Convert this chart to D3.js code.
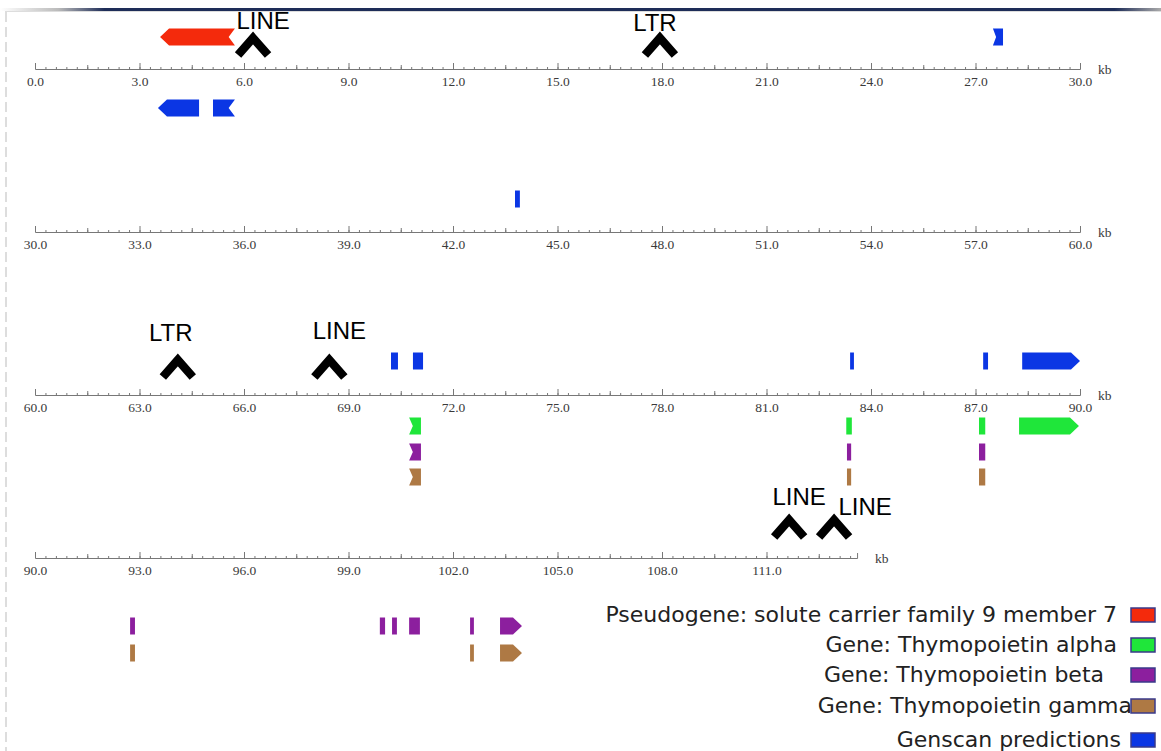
<!DOCTYPE html>
<html>
<head>
<meta charset="utf-8">
<script src="https://cdnjs.cloudflare.com/ajax/libs/d3/7.8.5/d3.min.js"></script>
<style>
body { margin: 0; background: #fff; }
svg { display: block; }
</style>
</head>
<body>
<svg id="map" width="1161" height="751"></svg>
<script>
// ruler rows, kb
var rowStarts = [0, 30, 60, 90];
var rowEnds = [30, 60, 90, 113.6];

// features: [start kb, end kb, lane, ends]  ends = left+right glyph: f flat, t tip, n notch
var pseudogene = [[3.59, 5.74, -1, "tn"]];
var genscan = [
	[3.53, 4.71, 1, "tf"], [5.11, 5.74, 1, "fn"], [27.5, 27.79, -1, "nf"],
	[43.78, 43.92, -1, "ff"],
	[70.22, 70.42, -1, "ff"], [70.85, 71.14, -1, "ff"], [83.4, 83.51, -1, "ff"],
	[87.22, 87.36, -1, "ff"], [88.34, 90.0, -1, "ft"]
];
var tmpoAlpha = [[70.74, 71.08, 1, "nf"], [83.29, 83.45, 1, "ff"], [87.1, 87.28, 1, "ff"], [88.25, 89.97, 1, "ft"]];
var tmpoBeta = [
	[70.74, 71.08, 2, "nf"], [83.31, 83.43, 2, "ff"], [87.1, 87.28, 2, "ff"],
	[92.73, 92.87, 2, "ff"], [99.9, 100.05, 2, "ff"], [100.25, 100.39, 2, "ff"],
	[100.74, 101.05, 2, "ff"], [102.49, 102.6, 2, "ff"], [103.35, 103.98, 2, "ft"]
];
var tmpoGamma = [
	[70.74, 71.08, 3, "nf"], [83.31, 83.43, 3, "ff"], [87.1, 87.28, 3, "ff"],
	[92.73, 92.87, 3, "ff"], [102.49, 102.6, 3, "ff"], [103.35, 103.98, 3, "ft"]
];

// repeat elements
var repeatNames = ["LINE", "LTR", "LTR", "LINE", "LINE", "LINE"];
var repeatPos = [6.26, 17.94, 64.1, 68.45, 111.65, 112.94];

var legendLabels = [
	"Pseudogene: solute carrier family 9 member 7",
	"Gene: Thymopoietin alpha",
	"Gene: Thymopoietin beta",
	"Gene: Thymopoietin gamma",
	"Genscan predictions"
];

// ---- layout ----
var rowY = [69, 232, 395, 558];
var laneOffset = [
	{"-1": -32, "1": 39},
	{"-1": -33},
	{"-1": -34, "1": 31, "2": 57, "3": 82},
	{"2": 68, "3": 95}
];
var barH = 17;
// [label dx, label baseline dy, chevron top dy]
var repeatNudge = [[10, -40, -37], [-5, -38, -37], [-7, -54, -41], [10, -56, -41], [10, -53, -44], [31, -43, -44]];
var legendRight = [1117, 1117, 1104, 1132, 1121];
var legendY = [615, 645, 675, 706, 740];

var series = [
	{data: pseudogene, color: "#f42a0c"},
	{data: tmpoAlpha, color: "#1fe63a"},
	{data: tmpoBeta, color: "#8c1f9e"},
	{data: tmpoGamma, color: "#ae7944"},
	{data: genscan, color: "#0b36e4"}
];

var svg = d3.select("#map");

// frame
var defs = svg.append("defs");
var grad = defs.append("linearGradient").attr("id", "topbar");
grad.append("stop").attr("offset", "0%").attr("stop-color", "#fff");
grad.append("stop").attr("offset", "5%").attr("stop-color", "#bbb");
grad.append("stop").attr("offset", "9%").attr("stop-color", "#1e2d58");
grad.append("stop").attr("offset", "96%").attr("stop-color", "#1e2d58");
grad.append("stop").attr("offset", "100%").attr("stop-color", "#aaa");
svg.append("rect").attr("x", 0).attr("y", 8).attr("width", 1161).attr("height", 3).attr("fill", "url(#topbar)");
svg.append("line").attr("x1", 5).attr("x2", 1161).attr("y1", 11.5).attr("y2", 11.5).attr("stroke", "#ddd");
svg.append("line").attr("x1", 6).attr("x2", 6).attr("y1", 12).attr("y2", 751)
	.attr("stroke", "#ddd").attr("stroke-width", 2).attr("stroke-dasharray", "10,5");

function rowOf(kb) {
	for (var i = 0; i < rowStarts.length; i++) {
		if (kb >= rowStarts[i] && kb < rowEnds[i]) return i;
	}
	return rowStarts.length - 1;
}

var scales = rowStarts.map(function(s, i) {
	return d3.scaleLinear().domain([s, s + 30]).range([35, 1080]);
});

// rulers
rowStarts.forEach(function(s, i) {
	var x = scales[i];
	var g = svg.append("g").attr("transform", "translate(0," + rowY[i] + ")");
	var minor = d3.range(s, rowEnds[i] + 0.001, 0.3);
	var mid = d3.range(s + 1.5, rowEnds[i], 3);
	g.append("g").call(d3.axisBottom(x).tickValues(minor).tickSize(-2).tickFormat(""))
		.call(function(a) { a.select(".domain").remove(); });
	g.append("g").call(d3.axisBottom(x).tickValues(mid).tickSize(-4).tickFormat(""))
		.call(function(a) { a.select(".domain").remove(); });
	var major = g.append("g").call(d3.axisBottom(x.copy().domain([s, rowEnds[i]]).range([35, x(rowEnds[i])]))
		.tickValues(d3.range(s, rowEnds[i] + 0.001, 3))
		.tickFormat(d3.format(".1f"))
		.tickSize(-6).tickSizeOuter(-5).tickPadding(7));
	g.selectAll("line, path").attr("stroke", "#777");
	major.selectAll("text").attr("font-family", "Liberation Serif").attr("font-size", 13.5).attr("fill", "#3a3a3a");
	g.append("text").attr("x", x(rowEnds[i]) + 18).attr("y", 5)
		.attr("font-family", "Liberation Serif").attr("font-size", 13.5).attr("fill", "#3a3a3a").text("kb");
});

function glyph(x0, x1, yc, h, ends) {
	var t = yc - h / 2, b = yc + h / 2, w = x1 - x0;
	var d = Math.min(9, w * 0.45);
	var L = ends[0], R = ends[1];
	var p = [];
	p.push([L === "t" ? x0 + d : x0, t]);
	p.push([R === "t" ? x1 - d : x1, t]);
	if (R === "t") p.push([x1, yc]);
	if (R === "n") p.push([x1 - d * 0.7, yc]);
	p.push([R === "t" ? x1 - d : x1, b]);
	p.push([L === "t" ? x0 + d : x0, b]);
	if (L === "t") p.push([x0, yc]);
	if (L === "n") p.push([x0 + d * 0.7, yc]);
	return "M" + p.join("L") + "Z";
}

// features
series.forEach(function(se) {
	svg.append("g").selectAll("path").data(se.data).enter().append("path")
		.attr("d", function(f) {
			var r = rowOf(f[0]);
			var x = scales[r];
			return glyph(x(f[0]), x(f[1]), rowY[r] + laneOffset[r][f[2]], barH, f[3]);
		})
		.attr("fill", se.color);
});

// repeats
repeatPos.forEach(function(kb, i) {
	var r = rowOf(kb), x = scales[r](kb), n = repeatNudge[i];
	var top = rowY[r] + n[2];
	svg.append("path").attr("d", "M" + (x - 15) + "," + (top + 23) + "L" + x + "," + (top + 6) + "L" + (x + 15) + "," + (top + 23))
		.attr("fill", "none").attr("stroke", "#000").attr("stroke-width", 8.5).attr("stroke-linejoin", "miter");
	svg.append("text").attr("x", x + n[0]).attr("y", rowY[r] + n[1]).attr("text-anchor", "middle")
		.attr("font-family", "Liberation Sans").attr("font-size", 24).attr("fill", "#000").text(repeatNames[i]);
});

// legend
var leg = svg.append("g");
legendLabels.forEach(function(t, i) {
	leg.append("text").attr("x", legendRight[i]).attr("y", legendY[i] + 7).attr("text-anchor", "end")
		.attr("font-family", "DejaVu Sans").attr("font-size", 22).attr("fill", "#222").text(t);
	leg.append("rect").attr("x", 1131).attr("y", legendY[i] - 7).attr("width", 24).attr("height", 14)
		.attr("fill", series[i].color).attr("stroke", "#3a3a8a").attr("stroke-width", 1.5);
});
</script>
</body>
</html>
